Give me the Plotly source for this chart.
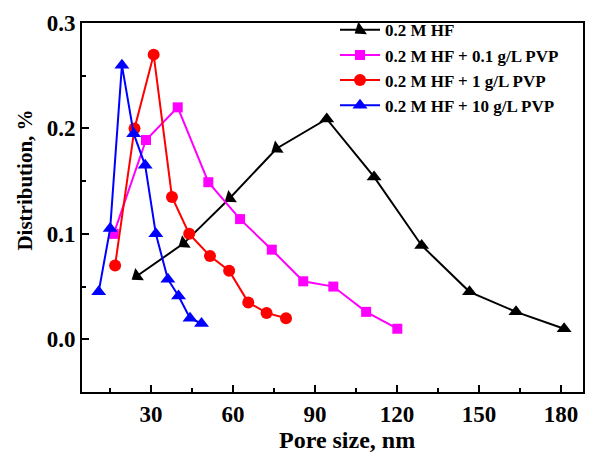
import plotly.graph_objects as go

# Data
hf_x = [24.9, 42.0, 58.9, 76.0, 94.3, 111.6, 129.0, 146.5, 163.5, 181.1]
hf_y = [0.060, 0.091, 0.134, 0.181, 0.209, 0.154, 0.089, 0.045, 0.026, 0.010]

pvp01_x = [16.4, 28.2, 39.8, 51.0, 62.6, 74.2, 85.7, 96.7, 108.7, 120.1]
pvp01_y = [0.100, 0.189, 0.220, 0.149, 0.114, 0.085, 0.055, 0.050, 0.026, 0.010]

pvp1_x = [16.9, 24.0, 31.0, 37.7, 44.0, 51.6, 58.6, 65.6, 72.3, 79.4]
pvp1_y = [0.070, 0.200, 0.270, 0.135, 0.100, 0.079, 0.065, 0.035, 0.025, 0.020]

pvp10_x = [10.9, 15.1, 19.4, 23.7, 27.9, 31.8, 36.2, 40.1, 44.3, 48.5]
pvp10_y = [0.045, 0.105, 0.260, 0.195, 0.165, 0.100, 0.057, 0.041, 0.020, 0.015]

names = ["0.2 M HF", "0.2 M HF + 0.1 g/L PVP", "0.2 M HF + 1 g/L PVP", "0.2 M HF + 10 g/L PVP"]
x_title = "Pore size, nm"
y_title = "Distribution, %"

FONT = "Liberation Serif"

fig = go.Figure()

hf_angles = [-125, -125, -125, -125, 0, 0, 0, 0, 0, 0]

fig.add_trace(go.Scatter(x=hf_x, y=hf_y, mode="lines+markers", name="<b>" + names[0] + "</b>",
                         line=dict(color="black", width=2),
                         marker=dict(symbol="triangle-up", size=13, color="black", angle=hf_angles)))
fig.add_trace(go.Scatter(x=pvp01_x, y=pvp01_y, mode="lines+markers", name="<b>" + names[1] + "</b>",
                         line=dict(color="#ff00ff", width=2),
                         marker=dict(symbol="square", size=10, color="#ff00ff")))
fig.add_trace(go.Scatter(x=pvp1_x, y=pvp1_y, mode="lines+markers", name="<b>" + names[2] + "</b>",
                         line=dict(color="#ff0000", width=2),
                         marker=dict(symbol="circle", size=12, color="#ff0000")))
fig.add_trace(go.Scatter(x=pvp10_x, y=pvp10_y, mode="lines+markers", name="<b>" + names[3] + "</b>",
                         line=dict(color="#0000ff", width=2),
                         marker=dict(symbol="triangle-up", size=13, color="#0000ff")))

fig.update_layout(
    width=597, height=457,
    margin=dict(l=82, r=14, t=15, b=65),
    paper_bgcolor="white", plot_bgcolor="white",
    font=dict(family=FONT, color="black"),
    showlegend=True,
    legend=dict(x=0.505, y=1.029, xanchor="left", yanchor="top",
                bgcolor="rgba(0,0,0,0)", borderwidth=0,
                font=dict(family=FONT, size=17, color="black"),
                tracegroupgap=0, itemwidth=40),
    annotations=[
        dict(text="<b>" + x_title + "</b>", xref="paper", yref="paper", x=0.529, y=-0.13,
             xanchor="center", yanchor="middle", showarrow=False,
             font=dict(family=FONT, size=24, color="black")),
        dict(text="<b>" + y_title + "</b>", xref="paper", yref="paper", x=-0.1138, y=0.5756,
             xanchor="center", yanchor="middle", showarrow=False, textangle=-90,
             font=dict(family=FONT, size=21, color="black")),
    ],
)

fig.update_xaxes(
    range=[4.8, 188], tick0=0, dtick=30,
    showgrid=False, zeroline=False,
    showline=True, linecolor="black", linewidth=2, mirror=True,
    ticks="inside", ticklen=7, tickwidth=2, tickcolor="black",
    minor=dict(dtick=15, tick0=0, ticks="inside", ticklen=4, tickwidth=2, tickcolor="black"),
    tickprefix="<b>", ticksuffix="</b>",
    tickfont=dict(family=FONT, size=23, color="black", weight=700),
)
fig.update_yaxes(
    range=[-0.05, 0.3], tick0=0, dtick=0.1, tickformat=".1f",
    showgrid=False, zeroline=False,
    showline=True, linecolor="black", linewidth=2, mirror=True,
    ticks="inside", ticklen=7, tickwidth=2, tickcolor="black",
    minor=dict(dtick=0.05, tick0=0, ticks="inside", ticklen=4, tickwidth=2, tickcolor="black"),
    tickprefix="<b>", ticksuffix="</b>",
    tickfont=dict(family=FONT, size=23, color="black", weight=700),
)

fig.write_html("out.html")
